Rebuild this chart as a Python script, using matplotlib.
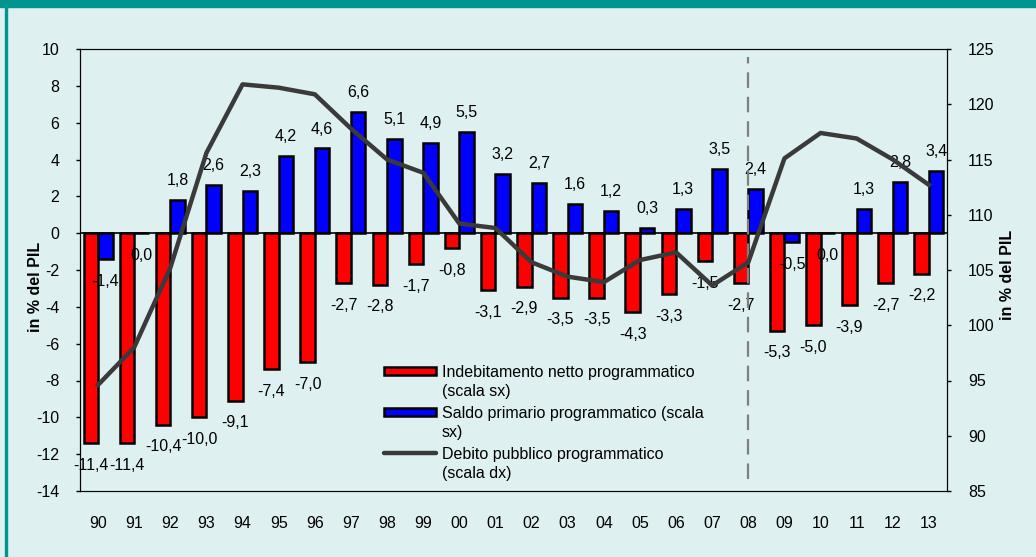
import numpy as np
import matplotlib
matplotlib.use('Agg')
import matplotlib.pyplot as plt
from matplotlib.patches import Rectangle
from matplotlib.lines import Line2D

plt.rcParams['font.family'] = ['Liberation Sans', 'DejaVu Sans']
plt.rcParams['font.size'] = 11.5
plt.rcParams['axes.unicode_minus'] = False

# dati
anni = ['90', '91', '92', '93', '94', '95', '96', '97', '98', '99', '00', '01',
        '02', '03', '04', '05', '06', '07', '08', '09', '10', '11', '12', '13']
indebitamento = [-11.4, -11.4, -10.4, -10.0, -9.1, -7.4, -7.0, -2.7, -2.8, -1.7, -0.8, -3.1,
                 -2.9, -3.5, -3.5, -4.3, -3.3, -1.5, -2.7, -5.3, -5.0, -3.9, -2.7, -2.2]
saldo_primario = [-1.4, 0.0, 1.8, 2.6, 2.3, 4.2, 4.6, 6.6, 5.1, 4.9, 5.5, 3.2,
                  2.7, 1.6, 1.2, 0.3, 1.3, 3.5, 2.4, -0.5, 0.0, 1.3, 2.8, 3.4]
debito = [94.6, 98.0, 105.2, 115.6, 121.8, 121.5, 120.9, 117.8, 115.0, 113.8, 109.2, 108.8,
          105.7, 104.4, 103.9, 105.9, 106.6, 103.6, 105.7, 115.1, 117.4, 116.9, 115.0, 112.7]
legenda = ['Indebitamento netto programmatico\n(scala sx)',
           'Saldo primario programmatico (scala\nsx)',
           'Debito pubblico programmatico\n(scala dx)']

bg = '#DEF0EF'
teal = '#00958F'
rosso = '#FF0000'
blu = '#0000FF'
grigio = '#3A3A3A'

W, H = 1036, 557
fig = plt.figure(figsize=(W / 100, H / 100), dpi=100, facecolor=bg)
# cornice
fig.patches.append(Rectangle((0, 1 - 7 / H), 1, 7 / H, transform=fig.transFigure,
                             color=teal, zorder=0))
fig.patches.append(Rectangle((5 / W, 0), 2 / W, 1, transform=fig.transFigure,
                             color=teal, zorder=0))

ax = fig.add_axes([80 / W, 1 - 491 / H, 867 / W, 442 / H])
ax.set_facecolor(bg)
x = np.arange(len(anni))
w = 0.4

ax.bar(x - w / 2, indebitamento, w, color=rosso, edgecolor='black', linewidth=1.8, zorder=2)
ax.bar(x + w / 2, saldo_primario, w, color=blu, edgecolor='black', linewidth=1.8, zorder=2)

def fmt(v):
    return f'{v:.1f}'.replace('.', ',')

for serie, dx in ((indebitamento, -w / 2), (saldo_primario, w / 2)):
    for i, v in enumerate(serie):
        off = 14 if v > 0 else -16
        ax.annotate(fmt(v), (i + dx, v), xytext=(0, off), textcoords='offset points',
                    ha='center', va='center', zorder=3)

ax.axhline(0, color='black', lw=1.2, zorder=2.5)
ax.axvline(18, ymin=0.027, ymax=0.982, color='#7F7F7F', lw=1.6, dashes=(7, 4), zorder=4)

ax.set_xlim(-0.5, len(anni) - 0.5)
ax.set_ylim(-14, 10)
ax.set_yticks(range(-14, 11, 2))
ax.set_xticks(x)
ax.set_xticklabels(anni)
ax.tick_params(axis='x', length=0, pad=18)
ax.tick_params(axis='y', direction='out', length=3, width=1, pad=12)
ax.spines['top'].set_color('#404040')
ax.spines['bottom'].set_color('#404040')
ax.spines['left'].set_color('black')

ax2 = ax.twinx()
ax2.plot(x, debito, color=grigio, lw=3.2, zorder=5)
ax2.set_ylim(85, 125)
ax2.set_yticks(range(85, 126, 5))
ax2.tick_params(axis='y', direction='out', length=3, width=1, pad=12)
ax2.spines['right'].set_color('black')

fig.text(35 / W, 1 - 287 / H, 'in % del PIL', rotation=90, ha='center', va='center',
         fontweight='bold')
fig.text(1008 / W, 1 - 275 / H, 'in % del PIL', rotation=90, ha='center', va='center',
         fontweight='bold')

# legenda disegnata a mano (simbolo allineato alla prima riga)
for k, testo in enumerate(legenda):
    yc = 1 - (371 + 41 * k) / H
    if k < 2:
        fig.patches.append(Rectangle((384 / W, yc - 4 / H), 52 / W, 8 / H,
                                     transform=fig.transFigure, facecolor=[rosso, blu][k],
                                     edgecolor='black', lw=1.8, zorder=6))
    else:
        fig.lines.append(Line2D([384 / W, 436 / W], [yc, yc], transform=fig.transFigure,
                                color=grigio, lw=3.2, solid_capstyle='round', zorder=6))
    fig.text(442 / W, yc + 6 / H, testo, ha='left', va='top', linespacing=1.3)

fig.savefig('out.png', dpi=100, facecolor=bg)
